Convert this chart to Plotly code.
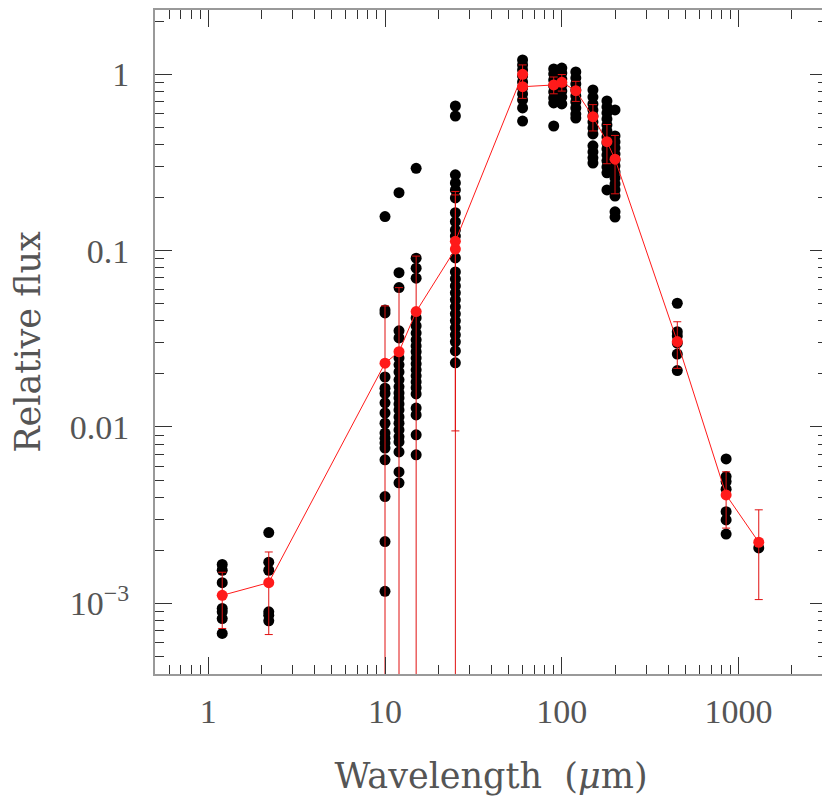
import numpy as np
import plotly.graph_objects as go

# individual photometry, relative flux per band (wavelength in micron)
wl_bands = [1.2, 2.2, 10, 12, 15, 25, 60, 90, 100, 120, 150, 180, 200, 450, 850, 1300]

flux_1p2 = [1.66e-3, 1.54e-3, 1.31e-3, 9.35e-4, 8.95e-4, 8.2e-4, 6.75e-4]
flux_2p2 = [2.52e-3, 1.71e-3, 1.54e-3, 8.95e-4, 8.57e-4, 7.96e-4]
flux_10 = [0.156, 0.0461, 0.0443, 0.0192, 0.0166, 0.0155, 0.0137, 0.0120, 0.0105,
           0.00923, 0.00864, 0.00810, 0.00759, 0.00651, 0.00403, 0.00224, 0.00117]
flux_12 = [0.213, 0.0750, 0.0617, 0.0351, 0.0320, 0.0246, 0.0225, 0.0205, 0.0185,
           0.0169, 0.0156, 0.0146, 0.0135, 0.0125, 0.0114, 0.0105, 0.00962, 0.00879,
           0.00823, 0.00722, 0.00556, 0.00482]
flux_15 = [0.293, 0.0906, 0.0795, 0.0698, 0.0415, 0.0374, 0.0341, 0.0312, 0.0288,
           0.0267, 0.0246, 0.0228, 0.0211, 0.0195, 0.0180, 0.0167, 0.0154, 0.0128,
           0.0117, 0.00902, 0.00695]
flux_25 = [0.661, 0.580, 0.269, 0.242, 0.221, 0.199, 0.164, 0.146, 0.131, 0.121,
           0.0909, 0.0757, 0.0691, 0.0631, 0.0576, 0.0526, 0.0480, 0.0438, 0.0400,
           0.0365, 0.0333, 0.0304, 0.0270, 0.0231]
flux_60 = [1.205, 1.129, 1.058, 0.978, 0.904, 0.836, 0.773, 0.715, 0.644, 0.543]
flux_90 = [1.072, 1.004, 0.928, 0.859, 0.794, 0.734, 0.688, 0.509]
flux_100 = [1.085, 1.017, 0.940, 0.870, 0.804, 0.743, 0.679]
flux_120 = [1.030, 0.953, 0.881, 0.815, 0.753, 0.697, 0.644, 0.595, 0.565]
flux_150 = [0.815, 0.743, 0.679, 0.628, 0.580, 0.537, 0.496, 0.459, 0.393, 0.363,
            0.336, 0.314]
flux_180 = [0.706, 0.653, 0.604, 0.558, 0.516, 0.477, 0.441, 0.408, 0.377, 0.349,
            0.323, 0.298, 0.276, 0.221]
flux_200 = [0.628, 0.447, 0.413, 0.382, 0.353, 0.327, 0.302, 0.279, 0.258, 0.239,
            0.221, 0.204, 0.166, 0.155]
flux_450 = [0.0503, 0.0347, 0.0328, 0.0299, 0.0259, 0.0209]
flux_850 = [0.00659, 0.00523, 0.00490, 0.00444, 0.00331, 0.00297, 0.00247]
flux_1300 = [0.00206]

band_fluxes = [flux_1p2, flux_2p2, flux_10, flux_12, flux_15, flux_25, flux_60,
               flux_90, flux_100, flux_120, flux_150, flux_180, flux_200,
               flux_450, flux_850, flux_1300]

# averaged SED with 1-sigma errors
mean_wl = [1.2, 2.2, 10, 12, 15, 25, 25, 60, 60, 90, 100, 120, 150, 180, 200, 450, 850, 1300]
mean_flux = [1.11e-3, 1.31e-3, 0.0230, 0.0267, 0.0451, 0.102, 0.113, 1.0, 0.85,
             0.870, 0.900, 0.807, 0.575, 0.415, 0.330, 0.0305, 0.00412, 0.00222]
mean_err = [0.39e-3, 0.645e-3, 0.0256, 0.035, 0.048, 0.105, 0.1035, 0.13, 0.12,
            0.095, 0.097, 0.105, 0.098, 0.104, 0.12, 0.009, 0.00145, 0.00117]

x_ticks = [1, 10, 100, 1000]
x_ticktext = ['1', '10', '100', '1000']
y_ticks = [1e-3, 0.01, 0.1, 1]
y_ticktext = ['10<sup>\u22123</sup>', '0.01', '0.1', '1']

pts_x = []
pts_y = []
for wl, fl in zip(wl_bands, band_fluxes):
    pts_x += [wl] * len(fl)
    pts_y += fl

tick_font = dict(family='Liberation Serif', size=34, color='#555')
title_font = dict(family='DejaVu Serif', size=35, color='#555')

fig = go.Figure()
fig.add_trace(go.Scatter(x=pts_x, y=pts_y, mode='markers',
                         marker=dict(color='black', size=11), showlegend=False))
fig.add_trace(go.Scatter(x=mean_wl, y=mean_flux, mode='lines+markers',
                         line=dict(color='#ff1a1a', width=1),
                         marker=dict(color='#ff1a1a', size=11),
                         error_y=dict(type='data', array=mean_err, color='#e01010',
                                      thickness=1, width=4),
                         showlegend=False))

axis_common = dict(
    type='log', showgrid=False, zeroline=False, automargin=False,
    showline=True, linecolor='#999', linewidth=2, mirror='ticks',
    ticks='inside', ticklen=17, tickwidth=1, tickcolor='#333',
    minor=dict(ticks='inside', ticklen=9, tickwidth=1, tickcolor='#333',
               dtick='D1', showgrid=False),
    tickfont=tick_font,
)

fig.update_xaxes(**axis_common, range=[np.log10(0.5), 3.5],
                 tickmode='array', tickvals=x_ticks, ticktext=x_ticktext,
                 ticklabelstandoff=6,
                 title=dict(text='Wavelength  (<i>\u03bc</i>m)', font=title_font, standoff=38))
fig.update_yaxes(**axis_common, range=[-3.4008, 0.3645],
                 tickmode='array', tickvals=y_ticks, ticktext=y_ticktext,
                 ticklabelstandoff=17,
                 title=dict(text='Relative flux', font=title_font, standoff=39))

# the page body adds an 8px offset, so the figure is sized to end at the window edge
fig.update_layout(width=822, height=788,
                  margin=dict(l=147, r=3, t=2, b=122),
                  plot_bgcolor='white', paper_bgcolor='white')

fig.write_html("out.html")
